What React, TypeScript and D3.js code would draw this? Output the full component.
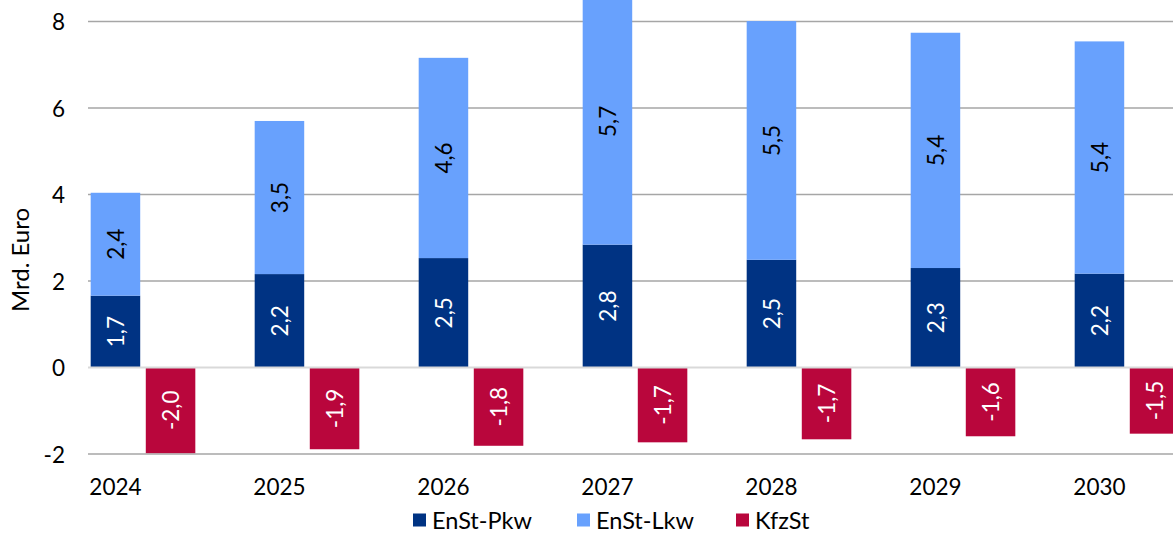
import React from 'react'
import * as d3 from 'd3'

const years = ['2024', '2025', '2026', '2027', '2028', '2029', '2030']
const pkw = [1.66, 2.16, 2.53, 2.84, 2.49, 2.3, 2.17]
const lkw = [2.38, 3.54, 4.63, 5.7, 5.52, 5.44, 5.37]
const kfz = [-1.98, -1.89, -1.81, -1.73, -1.66, -1.59, -1.53]
const yTicks = [-2, 0, 2, 4, 6, 8]
const seriesNames = ['EnSt-Pkw', 'EnSt-Lkw', 'KfzSt']
const colors = ['#003383', '#68a1fd', '#b9063c']

const W = 1173
const H = 534
const FONT = 'Lato, "Open Sans", sans-serif'
const FS = 22.5

const fmt = d3.formatLocale({ decimal: ',', thousands: '.', grouping: [3], currency: ['', '€'], minus: '-' }).format('.1f')

export default function App() {
  const x = d3.scaleBand<string>().domain(years).range([61, 61 + 7 * 164]).paddingInner(0).paddingOuter(0)
  const y = d3.scaleLinear().domain([-2, 8]).range([454, 21.5])
  const step = x.step()
  const bw = step * 0.302
  const gap = step * 0.034
  const center = (yr: string) => (x(yr) as number) + step / 2
  const pkwX = (yr: string) => center(yr) - gap / 2 - bw
  const kfzX = (yr: string) => center(yr) + gap / 2

  const stackData = years.map((yr, i) => ({ yr, pkw: pkw[i], lkw: lkw[i] }))
  const stack = d3.stack<any>().keys(['pkw', 'lkw'])(stackData)

  const label = (cx: number, cy: number, text: string, fill: string, key: string) => (
    <text key={key} transform={`translate(${cx},${cy}) rotate(-90)`} textAnchor="middle" dominantBaseline="central"
      fontSize={FS} fill={fill} fontFamily={FONT}>{text}</text>
  )

  const legendX = [413, 577, 736]

  return (
    <svg width={W} height={H} style={{ position: 'absolute', left: 0, top: 0, background: '#fff' }}>
      {yTicks.filter(t => t !== 0).map(t => (
        <line key={t} x1={88} x2={W} y1={y(t)} y2={y(t)} stroke="#a6a6a6" strokeWidth={1.5} />
      ))}
      {yTicks.map(t => (
        <text key={'t' + t} x={65} y={y(t)} textAnchor="end" dominantBaseline="central" fontSize={FS} fontFamily={FONT} fill="#000">{t}</text>
      ))}
      <text transform={`translate(19,${260}) rotate(-90)`} textAnchor="middle" dominantBaseline="central" fontSize={24} fontFamily={FONT}>Mrd. Euro</text>

      {stack.map((s, si) => s.map((d, i) => (
        <rect key={`${si}-${i}`} x={pkwX(years[i])} width={bw} y={y(d[1])} height={y(d[0]) - y(d[1])} fill={colors[si]} />
      )))}
      {years.map((yr, i) => (
        <rect key={'k' + yr} x={kfzX(yr)} width={bw} y={y(0)} height={y(kfz[i]) - y(0)} fill={colors[2]} />
      ))}
      <line x1={88} x2={W} y1={y(0)} y2={y(0)} stroke="#d9d9d9" strokeWidth={2} />

      {stack.map((s, si) => s.map((d, i) => {
        const cy = (y(d[0]) + y(d[1])) / 2
        return label(pkwX(years[i]) + bw / 2, Math.max(cy, 0), fmt(si === 0 ? pkw[i] : lkw[i]), si === 0 ? '#fff' : '#000', `l${si}-${i}`)
      }))}
      {years.map((yr, i) => label(kfzX(yr) + bw / 2, (y(0) + y(kfz[i])) / 2, fmt(kfz[i]), '#fff', 'lk' + yr))}

      {years.map(yr => (
        <text key={'x' + yr} x={pkwX(yr) + bw / 2} y={486} textAnchor="middle" dominantBaseline="central" fontSize={FS} fontFamily={FONT}>{yr}</text>
      ))}

      {seriesNames.map((n, i) => (
        <g key={n} transform={`translate(${legendX[i]},520)`}>
          <rect x={0} y={-6.5} width={13} height={13} fill={colors[i]} />
          <text x={19} y={0} dominantBaseline="central" fontSize={23.5} fontFamily={FONT}>{n}</text>
        </g>
      ))}
    </svg>
  )
}
